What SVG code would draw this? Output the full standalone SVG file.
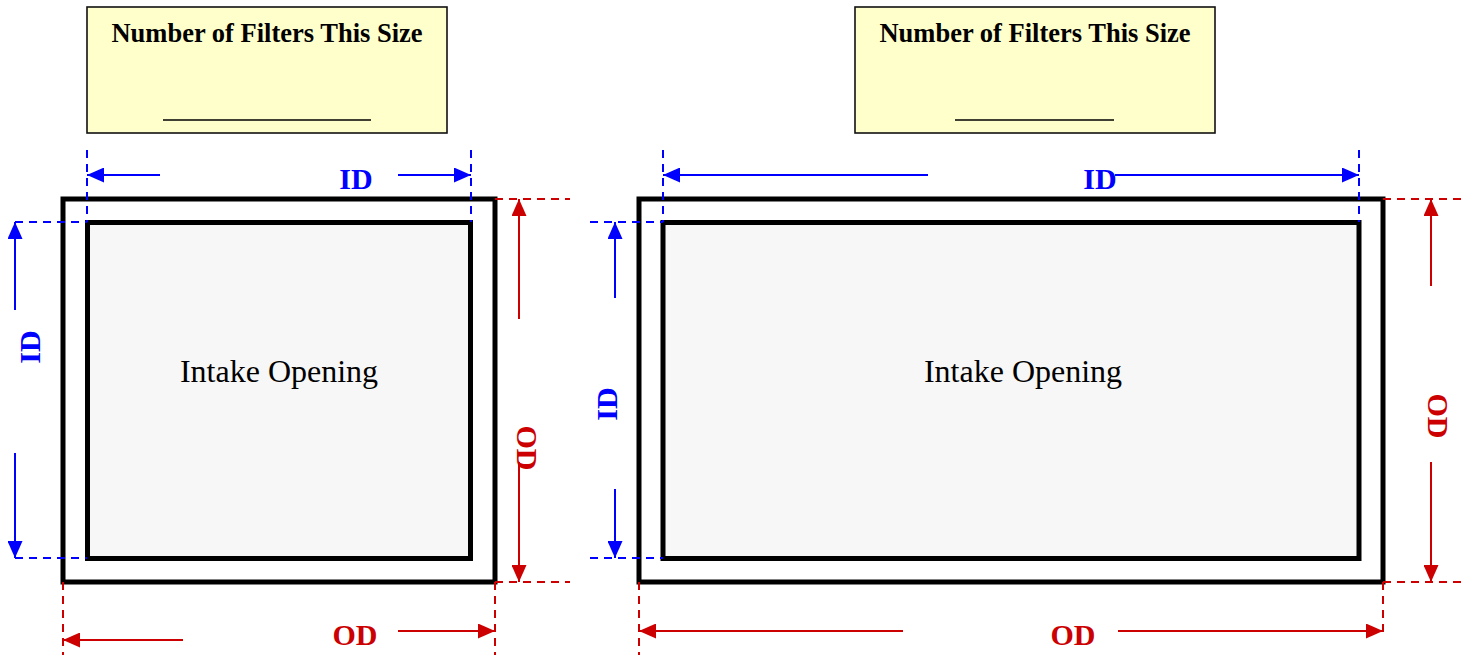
<svg xmlns="http://www.w3.org/2000/svg" width="1461" height="655" viewBox="0 0 1461 655">
<style>
.box{fill:#ffffcc;stroke:#111;stroke-width:1.6}
.title{font-family:"Liberation Serif","Times New Roman",serif;font-weight:bold;font-size:26.5px;fill:#000}
.outer{fill:#fff;stroke:#000;stroke-width:5}
.inner{fill:#f7f7f7;stroke:#000;stroke-width:5}
.lbl{font-family:"Liberation Serif","Times New Roman",serif;font-size:32px;fill:#000}
.dim{font-family:"Liberation Serif","Times New Roman",serif;font-weight:bold;font-size:30px}
.b{fill:#0000ff}
.r{fill:#cc0000}
.bd{stroke:#0000ff;stroke-width:2;stroke-dasharray:8 6;fill:none}
.rd{stroke:#cc0000;stroke-width:2;stroke-dasharray:8 6;fill:none}
.ba{stroke:#0000ff;stroke-width:2;fill:none;marker-end:url(#ab)}
.ra{stroke:#cc0000;stroke-width:2;fill:none;marker-end:url(#ar)}
.ul{stroke:#000;stroke-width:1.5}
</style>
<defs>
<marker id="ab" markerUnits="userSpaceOnUse" markerWidth="17" markerHeight="15" refX="17" refY="7.5" orient="auto"><path d="M0,0 L17,7.5 L0,15 Z" fill="#0000ff"/></marker>
<marker id="ar" markerUnits="userSpaceOnUse" markerWidth="17" markerHeight="15" refX="17" refY="7.5" orient="auto"><path d="M0,0 L17,7.5 L0,15 Z" fill="#cc0000"/></marker>
</defs>
<rect width="1461" height="655" fill="#fff"/>

<g id="box-left">
<rect class="box" x="87" y="7" width="360" height="126"/>
<text class="title" x="267" y="42" text-anchor="middle">Number of Filters This Size</text>
<line class="ul" x1="163" y1="120" x2="371" y2="120"/>
</g>
<g id="box-right">
<rect class="box" x="855" y="7" width="360" height="126"/>
<text class="title" x="1035" y="42" text-anchor="middle">Number of Filters This Size</text>
<line class="ul" x1="955" y1="120" x2="1114" y2="120"/>
</g>

<g id="filter-left">
<rect class="outer" x="63" y="199" width="432" height="383"/>
<rect class="inner" x="87.5" y="222.5" width="383" height="336"/>
<text class="lbl" x="279" y="382" text-anchor="middle">Intake Opening</text>
</g>
<g id="filter-right">
<rect class="outer" x="639" y="199" width="744" height="383"/>
<rect class="inner" x="663" y="222.5" width="696" height="336"/>
<text class="lbl" x="1023" y="382" text-anchor="middle">Intake Opening</text>
</g>

<g id="connectors">
<line class="bd" x1="87" y1="150" x2="87" y2="222"/>
<line class="bd" x1="471" y1="150" x2="471" y2="222"/>
<line class="ba" x1="160" y1="175" x2="87" y2="175"/>
<line class="ba" x1="398" y1="175" x2="471" y2="175"/>
<line class="bd" x1="15" y1="222" x2="87" y2="222"/>
<line class="bd" x1="15" y1="558" x2="87" y2="558"/>
<line class="ba" x1="15" y1="310" x2="15" y2="222"/>
<line class="ba" x1="15" y1="453" x2="15" y2="558"/>
<line class="rd" x1="495" y1="199" x2="570" y2="199"/>
<line class="rd" x1="495" y1="582" x2="570" y2="582"/>
<line class="ra" x1="519" y1="319" x2="519" y2="199"/>
<line class="ra" x1="519" y1="462" x2="519" y2="582"/>
<line class="rd" x1="63" y1="582" x2="63" y2="655"/>
<line class="rd" x1="495" y1="582" x2="495" y2="655"/>
<line class="ra" x1="183" y1="640" x2="63" y2="640"/>
<line class="ra" x1="398" y1="631" x2="495" y2="631"/>
<line class="bd" x1="663" y1="150" x2="663" y2="222"/>
<line class="bd" x1="1359" y1="150" x2="1359" y2="222"/>
<line class="ba" x1="928" y1="175" x2="663" y2="175"/>
<line class="ba" x1="1115" y1="175" x2="1359" y2="175"/>
<line class="bd" x1="590" y1="222" x2="663" y2="222"/>
<line class="bd" x1="590" y1="558" x2="663" y2="558"/>
<line class="ba" x1="615" y1="298" x2="615" y2="222"/>
<line class="ba" x1="615" y1="489" x2="615" y2="558"/>
<line class="rd" x1="1383" y1="199" x2="1461" y2="199"/>
<line class="rd" x1="1383" y1="582" x2="1461" y2="582"/>
<line class="ra" x1="1431" y1="286" x2="1431" y2="199"/>
<line class="ra" x1="1431" y1="462" x2="1431" y2="582"/>
<line class="rd" x1="639" y1="582" x2="639" y2="655"/>
<line class="rd" x1="1383" y1="582" x2="1383" y2="632"/>
<line class="ra" x1="903" y1="631" x2="639" y2="631"/>
<line class="ra" x1="1118" y1="631" x2="1383" y2="631"/>
</g>

<g id="labels">
<text class="dim b" x="356" y="189" text-anchor="middle">ID</text>
<text class="dim b" transform="translate(40,347) rotate(-90)" text-anchor="middle">ID</text>
<text class="dim r" transform="translate(517,448) rotate(90)" text-anchor="middle">OD</text>
<text class="dim r" x="355" y="645" text-anchor="middle">OD</text>
<text class="dim b" x="1100" y="189" text-anchor="middle">ID</text>
<text class="dim b" transform="translate(617,404) rotate(-90)" text-anchor="middle">ID</text>
<text class="dim r" transform="translate(1428,416) rotate(90)" text-anchor="middle">OD</text>
<text class="dim r" x="1073" y="645" text-anchor="middle">OD</text>
</g>
</svg>
